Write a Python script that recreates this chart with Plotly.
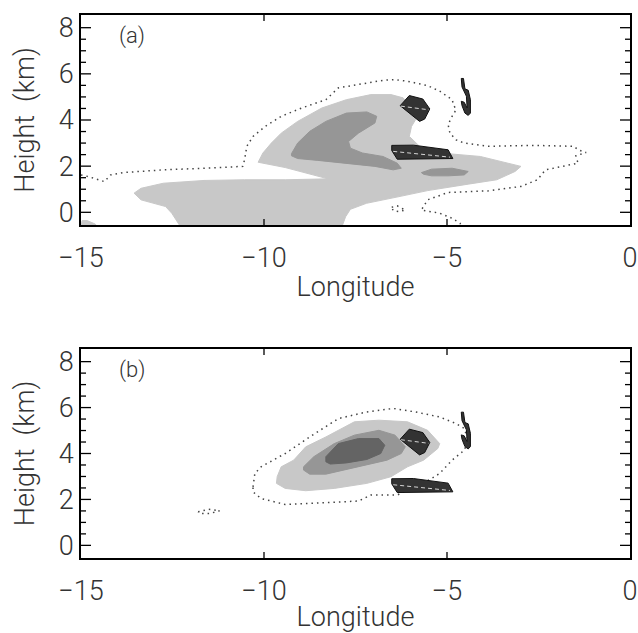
import plotly.graph_objects as go

# ---------------- data (longitude, height km) ----------------
# Panel (a)
a_light_lon = [-12.30, -12.52, -12.69, -13.36, -13.55, -13.36, -12.75, -11.64, -10.53, -9.42, -8.25,
               -8.75, -9.42, -10.16, -10.03, -9.80, -9.53, -9.08, -8.42, -7.75, -7.08, -6.53, -6.20,
               -6.08, -5.86, -5.97, -6.03, -5.75, -4.97, -4.09, -3.31, -2.98, -3.14, -3.64, -4.42,
               -5.53, -6.31, -7.20, -7.64, -7.77, -7.86]
a_light_h = [-0.58, -0.04, 0.25, 0.54, 0.83, 1.04, 1.26, 1.38, 1.41, 1.41, 1.45,
             1.67, 1.94, 2.17, 2.57, 3.00, 3.43, 3.94, 4.52, 4.88, 5.10, 5.10, 4.96,
             4.74, 4.01, 3.72, 3.29, 2.86, 2.54, 2.42, 2.13, 1.99, 1.77, 1.41, 1.22,
             0.94, 0.68, 0.39, 0.13, -0.19, -0.58]
a_light2_lon = [-14.83, -14.61, -14.58, -15.0, -14.97]
a_light2_h = [-0.36, -0.51, -0.58, -0.58, -0.36]

a_mid_lon = [-9.25, -9.08, -8.75, -8.31, -7.75, -7.19, -6.92, -6.97, -7.42, -7.69, -7.64, -7.31,
             -6.75, -6.36, -6.25, -6.47, -6.97, -7.75, -8.53, -9.08, -9.25]
a_mid_h = [2.54, 3.00, 3.51, 3.94, 4.30, 4.35, 4.16, 3.87, 3.43, 3.07, 2.78, 2.57,
           2.42, 2.13, 1.91, 1.84, 1.99, 2.13, 2.25, 2.33, 2.45]
a_mid2_lon = [-5.70, -5.42, -4.86, -4.42, -4.53, -4.97, -5.42, -5.64]
a_mid2_h = [1.72, 1.87, 1.91, 1.77, 1.62, 1.58, 1.58, 1.65]

a_dot_lon = [-15.00, -14.80, -14.36, -14.19, -13.86, -12.75, -11.64, -10.58, -10.53, -10.47, -10.30,
             -9.97, -9.53, -8.97, -8.31, -7.97, -7.42, -6.75, -6.42, -6.08, -5.53, -5.20, -4.86,
             -4.81, -4.75, -4.86, -4.97, -4.92, -4.75, -4.53, -3.86, -2.64, -1.53, -1.42, -1.20,
             -1.48, -1.42, -1.87, -2.31, -2.53, -2.98, -3.86, -4.97, -5.53, -5.70, -5.20, -4.86,
             -4.64, -4.62]
a_dot_h = [1.62, 1.55, 1.33, 1.62, 1.72, 1.84, 1.91, 1.99, 2.28, 2.86, 3.29,
           3.72, 4.16, 4.52, 4.88, 5.39, 5.54, 5.72, 5.75, 5.68, 5.49, 5.25, 4.88,
           4.62, 4.45, 4.16, 3.80, 3.43, 3.14, 3.00, 2.86, 2.90, 2.86, 2.71, 2.59,
           2.45, 2.13, 1.99, 1.84, 1.41, 1.12, 0.93, 0.86, 0.54, 0.10, -0.04, -0.26,
           -0.48, -0.58]
a_dot2_lon = [-6.51, -6.36, -6.14, -6.31, -6.47, -6.51]
a_dot2_h = [0.22, 0.28, 0.10, 0.03, 0.07, 0.22]

# Panel (b)
b_light_lon = [-9.64, -9.53, -9.19, -8.86, -8.31, -7.53, -6.86, -6.08, -5.53, -5.20, -5.25, -5.42,
               -5.64, -6.08, -6.53, -7.19, -8.08, -8.86, -9.42, -9.66]
b_light_h = [2.99, 3.42, 3.71, 4.29, 4.72, 5.38, 5.45, 5.38, 5.01, 4.43, 4.22, 4.00,
             3.71, 3.42, 2.99, 2.70, 2.48, 2.38, 2.48, 2.70]
b_mid_lon = [-8.92, -8.64, -8.08, -7.53, -6.86, -6.42, -6.14, -6.25, -6.64, -7.42, -8.31, -8.75, -8.92]
b_mid_h = [3.42, 3.86, 4.43, 4.80, 5.01, 4.80, 4.29, 4.00, 3.71, 3.42, 3.10, 3.10, 3.28]
b_dark_lon = [-8.31, -7.97, -7.42, -6.86, -6.70, -6.81, -7.19, -7.75, -8.19, -8.31]
b_dark_h = [3.86, 4.43, 4.65, 4.65, 4.36, 4.00, 3.74, 3.59, 3.54, 3.64]

b_dot_lon = [-10.30, -10.25, -10.08, -9.42, -8.75, -7.97, -7.19, -6.47, -5.86, -5.20, -4.75, -4.53,
             -4.42, -4.53, -4.86, -5.20, -5.64, -6.08, -6.36, -7.08, -7.42, -8.31, -9.42, -10.08,
             -10.30, -10.30]
b_dot_h = [2.55, 3.13, 3.42, 4.00, 4.72, 5.52, 5.81, 5.96, 5.81, 5.59, 5.30, 5.09,
           4.58, 4.14, 3.71, 3.13, 2.70, 2.41, 2.19, 2.19, 1.93, 1.86, 1.78, 2.04,
           2.33, 2.55]
b_dot2_lon = [-11.80, -11.52, -11.21, -11.47, -11.75, -11.80]
b_dot2_h = [1.46, 1.57, 1.51, 1.39, 1.39, 1.46]

# Dark features common to both panels
pent_lon = [-6.28, -6.03, -5.66, -5.47, -5.61, -5.75]
pent_h = [4.62, 5.06, 4.91, 4.48, 4.04, 3.94]
pent_line_lon = [-6.26, -5.49]
pent_line_h = [4.60, 4.44]
para_lon = [-6.51, -5.92, -4.97, -4.84, -6.36, -6.51]
para_h = [2.90, 2.91, 2.71, 2.33, 2.30, 2.68]
para_line_lon = [-6.47, -4.92]
para_line_h = [2.64, 2.39]
bolt_lon = [-4.61, -4.55, -4.51, -4.42, -4.36, -4.36, -4.42, -4.51, -4.59, -4.61, -4.53, -4.45,
            -4.47, -4.53, -4.59]
bolt_h = [5.80, 5.80, 5.35, 5.29, 4.88, 4.30, 4.20, 4.30, 4.62, 4.81, 4.77, 4.52,
          5.03, 5.25, 5.43]

x_ticks = [-15, -10, -5, 0]
x_ticktext = ["\u221215", "\u221210", "\u22125", "0"]
y_ticks = [0, 2, 4, 6, 8]
y_ticktext = ["0", "2", "4", "6", "8"]
y_minor = [0.5, 1, 1.5, 2.5, 3, 3.5, 4.5, 5, 5.5, 6.5, 7, 7.5]
panel_labels = ["(a)", "(b)"]
x_range = [-15, 0]
y_range = [-0.55, 8.55]

LIGHT = "#c8c8c8"
MID = "#969696"
DARK = "#646464"
BLACK = "#333333"
FONT = "Roboto"
TXT = "#333333"

W, H = 638, 633
xdom = [81 / W, 630 / W]
ydom_a = [1 - 225 / H, 1 - 15 / H]
ydom_b = [1 - 558 / H, 1 - 349 / H]
plot_w = (xdom[1] - xdom[0]) * W
plot_h = (ydom_a[1] - ydom_a[0]) * H
x_per_px = (x_range[1] - x_range[0]) / plot_w
y_per_px = (y_range[1] - y_range[0]) / plot_h

fig = go.Figure()


def poly(lon, h, color, xa, ya, line_color=None):
    fig.add_trace(go.Scatter(x=lon + [lon[0]], y=h + [h[0]], mode="lines", fill="toself",
                             fillcolor=color, line=dict(color=line_color or color, width=1),
                             xaxis=xa, yaxis=ya, hoverinfo="skip", showlegend=False))


def line(lon, h, color, dash, xa, ya, width=1.5):
    fig.add_trace(go.Scatter(x=lon, y=h, mode="lines", line=dict(color=color, dash=dash, width=width),
                             xaxis=xa, yaxis=ya, hoverinfo="skip", showlegend=False))


def common(xa, ya):
    poly(pent_lon, pent_h, BLACK, xa, ya, "#111111")
    poly(para_lon, para_h, BLACK, xa, ya, "#111111")
    poly(bolt_lon, bolt_h, BLACK, xa, ya, "#111111")
    line(pent_line_lon, pent_line_h, "white", "4px,3px", xa, ya, 0.8)
    line(para_line_lon, para_line_h, "white", "4px,3px", xa, ya, 0.8)


def tick_marks(xa, ya):
    # inward tick marks at the tick values, on all four frame edges
    tx, ty = [], []
    for v, ln in [(v, 10) for v in y_ticks] + [(v, 5) for v in y_minor]:
        d = ln * x_per_px
        tx += [x_range[0], x_range[0] + d, None, x_range[1] - d, x_range[1], None]
        ty += [v, v, None, v, v, None]
    for v in x_ticks[1:-1]:
        d = 6 * y_per_px
        tx += [v, v, None, v, v, None]
        ty += [y_range[0], y_range[0] + d, None, y_range[1] - d, y_range[1], None]
    fig.add_trace(go.Scatter(x=tx, y=ty, mode="lines", line=dict(color="black", width=1.3),
                             xaxis=xa, yaxis=ya, hoverinfo="skip", showlegend=False,
                             connectgaps=False))


DOT = "1.5px,4px"
# panel a
poly(a_light_lon, a_light_h, LIGHT, "x", "y")
poly(a_light2_lon, a_light2_h, LIGHT, "x", "y")
poly(a_mid_lon, a_mid_h, MID, "x", "y")
poly(a_mid2_lon, a_mid2_h, MID, "x", "y")
line(a_dot_lon, a_dot_h, "#444444", DOT, "x", "y")
line(a_dot2_lon, a_dot2_h, "#444444", DOT, "x", "y")
common("x", "y")
tick_marks("x", "y")

# panel b
poly(b_light_lon, b_light_h, LIGHT, "x2", "y2")
poly(b_mid_lon, b_mid_h, MID, "x2", "y2")
poly(b_dark_lon, b_dark_h, DARK, "x2", "y2")
line(b_dot_lon, b_dot_h, "#444444", DOT, "x2", "y2")
line(b_dot2_lon, b_dot2_h, "#444444", DOT, "x2", "y2")
common("x2", "y2")
tick_marks("x2", "y2")

tickfont = dict(family=FONT, size=27, color=TXT, weight=300)
titlefont = dict(family=FONT, size=27, color=TXT, weight=300)


def main_x(anchor):
    return dict(range=x_range, tickmode="array", tickvals=x_ticks, ticktext=x_ticktext, ticks="",
                showline=True, linecolor="black", linewidth=1.5, mirror=True,
                showgrid=False, zeroline=False, tickfont=tickfont, automargin=False,
                ticklabelstandoff=8, title=dict(text="Longitude", font=titlefont, standoff=4),
                domain=xdom, anchor=anchor)


def main_y(dom, anchor):
    return dict(range=y_range, tickmode="array", tickvals=y_ticks, ticktext=y_ticktext, ticks="",
                showline=True, linecolor="black", linewidth=1.5, mirror=True,
                showgrid=False, zeroline=False, tickfont=tickfont, automargin=False,
                title=dict(text="Height  (km)", font=titlefont, standoff=16), domain=dom, anchor=anchor)


fig.update_layout(
    width=W, height=H, margin=dict(l=0, r=0, t=0, b=0),
    paper_bgcolor="white", plot_bgcolor="white", showlegend=False,
    xaxis=main_x("y"),
    yaxis=main_y(ydom_a, "x"),
    xaxis2=main_x("y2"),
    yaxis2=main_y(ydom_b, "x2"),
    annotations=[
        dict(x=-13.6, y=7.62, xref="x", yref="y", text=panel_labels[0], showarrow=False,
             font=dict(family=FONT, size=22, color=TXT, weight=300)),
        dict(x=-13.6, y=7.62, xref="x2", yref="y2", text=panel_labels[1], showarrow=False,
             font=dict(family=FONT, size=22, color=TXT, weight=300)),
    ],
)

fig.write_html("out.html", post_script="document.body.style.margin='0px';",
               config={"displayModeBar": False})
